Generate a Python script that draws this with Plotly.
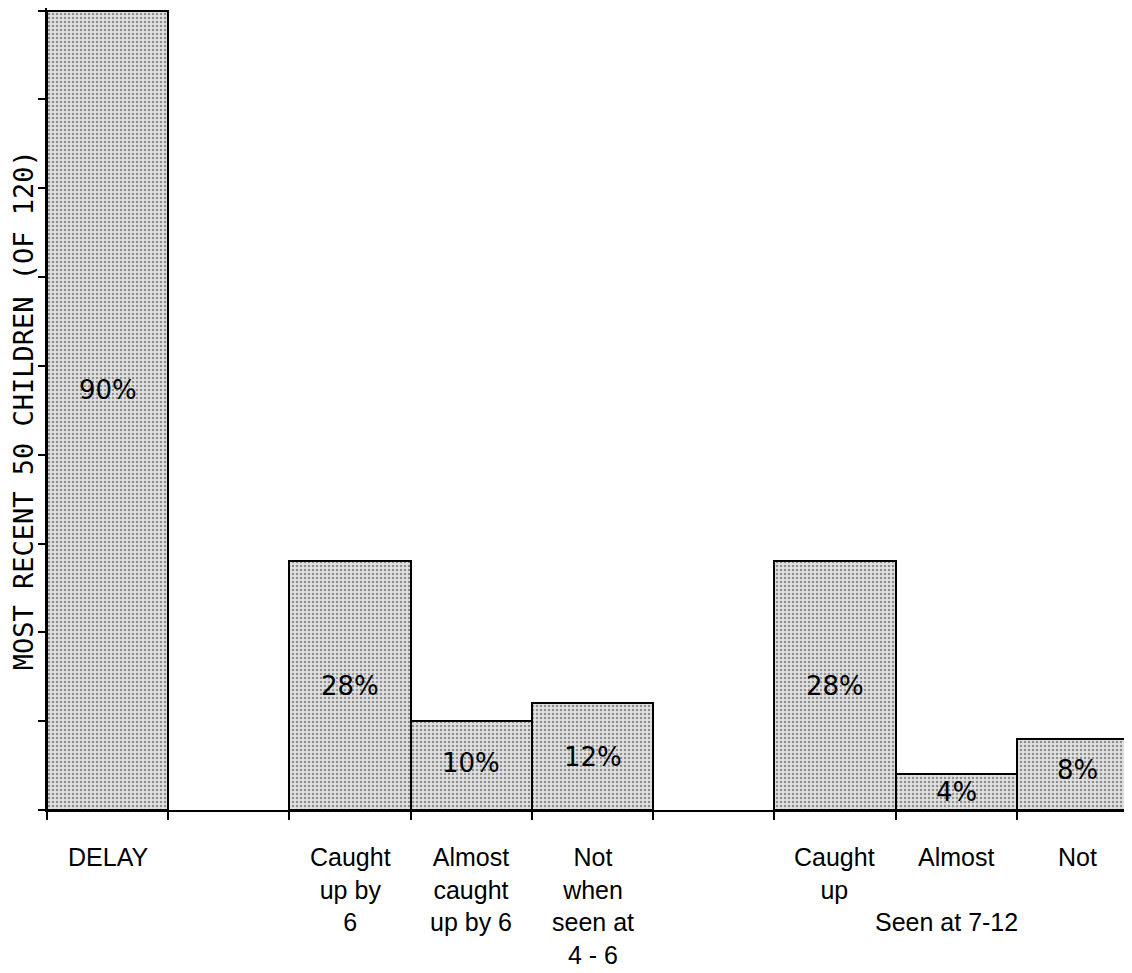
import plotly.graph_objects as go

# slot index of each bar (slot width = 1 on the x axis)
positions = [0, 2, 3, 4, 6, 7, 8]
values = [90, 28, 10, 12, 28, 4, 8]
value_labels = ["90%", "28%", "10%", "12%", "28%", "4%", "8%"]
category_labels = [
    "DELAY",
    "Caught<br>up by<br>6",
    "Almost<br>caught<br>up by 6",
    "Not<br>when<br>seen at<br>4 - 6",
    "Caught<br>up",
    "Almost",
    "Not",
]
group_label = "Seen at 7-12"
y_title = "MOST RECENT 50 CHILDREN (OF 120)"
slot_edges = [0, 1, 2, 3, 4, 5, 6, 7, 8]

fig = go.Figure(go.Bar(
    x=[p + 0.5 for p in positions],
    y=values,
    width=1,
    marker=dict(
        color="#e0e0e0",
        line=dict(color="black", width=2),
        pattern=dict(shape=".", bgcolor="#e2e2e2", fgcolor="#3a3a3a",
                     size=4, solidity=0.32),
    ),
    hoverinfo="skip",
))

# label nudges (pixels) so they sit where the original put them
label_yshift = {0: 20, 2: 3, 6: 4}

# percentage labels inside the bars
for i, (p, v, t) in enumerate(zip(positions, values, value_labels)):
    fig.add_annotation(
        x=p + 0.5, y=v / 2, text=t, showarrow=False,
        yshift=label_yshift.get(i, 0),
        font=dict(family="DejaVu Sans", size=26, color="black"),
    )

# category labels below the axis
for p, t in zip(positions, category_labels):
    fig.add_annotation(
        x=p + 0.5, y=0, yref="paper", yanchor="top", yshift=-31,
        text=t, showarrow=False, align="center",
        font=dict(family="Liberation Sans", size=25, color="black"),
    )

fig.add_annotation(
    x=7.42, y=0, yref="paper", yanchor="top", yshift=-96,
    text=group_label, showarrow=False,
    font=dict(family="Liberation Sans", size=25, color="black"),
)

fig.add_annotation(
    x=0, xref="paper", xanchor="center", xshift=-24, y=45, yref="y",
    text=y_title, textangle=-90, showarrow=False,
    font=dict(family="DejaVu Sans Mono", size=27, color="black"),
)

fig.update_layout(
    width=1124, height=965,
    margin=dict(l=39, r=0, t=0, b=163),
    plot_bgcolor="white", paper_bgcolor="white",
    showlegend=False,
    bargap=0,
)
fig.update_xaxes(
    range=[0, 8.95], showgrid=False, zeroline=False,
    showline=True, linecolor="black", linewidth=2,
    showticklabels=False, ticks="",
    minor=dict(tickmode="array", tickvals=slot_edges, ticks="outside",
               ticklen=8, tickwidth=2, tickcolor="black"),
)
fig.update_yaxes(
    range=[0, 90.3], showgrid=False, zeroline=False,
    showline=True, linecolor="black", linewidth=2,
    tickmode="linear", tick0=0, dtick=10,
    ticks="outside", ticklen=7, tickwidth=2, tickcolor="black",
    showticklabels=False,
)

fig.write_html("out.html")
